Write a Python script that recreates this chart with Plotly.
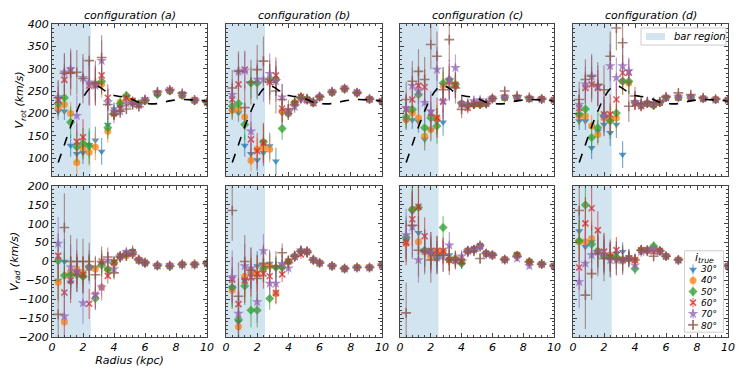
import plotly.graph_objects as go

# rayons des anneaux (kpc)
radius = [0.4, 0.8, 1.2, 1.6, 2.0, 2.4, 2.8, 3.2, 3.6, 4.0, 4.4, 4.8, 5.2, 5.6, 6.0, 6.8, 7.6, 8.4, 9.2, 10.0]

# courbe de rotation du modèle (tirets noirs)
model_vrot = [90, 130, 170, 205, 235, 255, 262, 256, 246, 240, 238, 236, 231, 225, 222, 222, 228, 231, 230, 228]

inclinations = ["30°", "40°", "50°", "60°", "70°", "80°"]
configs = ["configuration (a)", "configuration (b)", "configuration (c)", "configuration (d)"]

# V_rot par configuration : une ligne par inclinaison (30° ... 80°)
vrot_a = [
    [205, 205, 128, 110, 112, 130, 140, 115, 175, 210, 215, 235, 225, 220, 230, 240, 250, 245, 230, 225],
    [212, 220, 200, 90, 122, 113, 125, 265, 160, 200, 225, 232, 228, 220, 228, 245, 250, 240, 230, 225],
    [222, 235, 180, 125, 133, 127, 265, 272, 168, 200, 222, 240, 225, 222, 228, 243, 250, 240, 228, 225],
    [230, 275, 295, 137, 147, 262, 265, 285, 235, 200, 210, 235, 228, 220, 230, 245, 252, 242, 230, 225],
    [237, 292, 300, 195, 280, 270, 262, 318, 225, 205, 205, 222, 222, 218, 232, 248, 252, 243, 230, 225],
    [235, 290, 290, 292, 278, 318, 268, 325, 220, 198, 205, 210, 220, 215, 230, 248, 252, 245, 230, 225],
]
vrot_b = [
    [205, 201, 128, 110, 96, 112, 127, 93, 200, 202, 222, 233, 232, 225, 237, 247, 255, 246, 232, 227],
    [207, 209, 192, 95, 120, 123, 120, 276, 205, 200, 224, 235, 230, 225, 236, 246, 254, 245, 231, 227],
    [216, 222, 175, 268, 268, 136, 276, 276, 166, 200, 224, 236, 232, 224, 237, 247, 255, 246, 232, 227],
    [231, 265, 298, 142, 116, 134, 270, 285, 211, 205, 222, 237, 231, 223, 236, 248, 256, 247, 232, 227],
    [242, 294, 296, 160, 276, 276, 289, 272, 236, 203, 215, 233, 230, 226, 238, 249, 256, 247, 232, 227],
    [257, 294, 213, 270, 298, 317, 270, 250, 231, 210, 220, 235, 232, 225, 237, 248, 255, 246, 232, 227],
]
vrot_c = [
    [183, 185, 182, 142, 163, 182, 180, 258, 258, 222, 218, 220, 220, 222, 233, 235, 235, 233, 232, 230],
    [186, 201, 190, 149, 164, 188, 262, 270, 262, 222, 218, 220, 220, 222, 233, 235, 235, 233, 232, 230],
    [192, 209, 242, 168, 190, 172, 268, 276, 265, 222, 218, 220, 220, 222, 233, 235, 235, 233, 232, 230],
    [209, 231, 262, 259, 201, 190, 227, 272, 264, 220, 212, 222, 221, 222, 233, 236, 235, 233, 232, 230],
    [212, 262, 250, 224, 205, 298, 227, 275, 302, 222, 220, 228, 230, 224, 234, 237, 236, 234, 232, 230],
    [231, 272, 294, 276, 354, 328, 253, 365, 257, 209, 218, 222, 224, 222, 233, 250, 240, 236, 232, 230],
]
vrot_d = [
    [183, 183, 123, 160, 175, 157, 175, 108, 268, 224, 218, 222, 218, 224, 235, 235, 235, 233, 231, 230],
    [194, 194, 172, 153, 190, 186, 190, 272, 268, 224, 218, 222, 218, 224, 235, 235, 235, 233, 231, 230],
    [198, 210, 146, 168, 195, 183, 201, 272, 272, 224, 218, 222, 218, 224, 235, 235, 235, 233, 231, 230],
    [212, 257, 265, 257, 198, 198, 231, 291, 291, 222, 216, 222, 220, 224, 235, 236, 235, 233, 231, 230],
    [220, 265, 283, 262, 194, 306, 280, 306, 295, 226, 220, 224, 222, 226, 236, 237, 236, 234, 231, 230],
    [231, 276, 283, 265, 253, 328, 391, 358, 216, 239, 222, 226, 224, 226, 237, 246, 242, 235, 232, 230],
]

# V_rad par configuration
vrad_a = [
    [-50, 0, -55, -30, -40, -15, -15, -5, -20, 0, 15, 20, 28, 5, -3, -12, -12, -8, -8, -5],
    [-55, -160, -30, -20, -30, -15, -20, -68, -20, -5, 12, 15, 20, 5, -3, -10, -10, -8, -8, -5],
    [2, -37, -35, -35, -40, -15, -98, -10, -22, -3, 12, 20, 25, 3, -5, -12, -13, -8, -8, -5],
    [15, -82, -50, -30, -35, -112, -88, 0, -38, -2, 15, 22, 25, 3, -3, -12, -12, -8, -8, -5],
    [48, -145, -15, -25, -110, -15, -88, -68, 3, -20, 12, 25, 22, 5, -3, -10, -10, -8, -8, -5],
    [-140, 90, 0, 0, 0, 0, -35, 0, 12, -30, 12, 15, 20, 5, -3, -10, -12, -8, -8, -5],
]
vrad_b = [
    [-69, -160, -50, -32, -12, -10, -5, -16, -10, 0, 14, 28, 26, 4, -4, -12, -19, -16, -16, -10],
    [-76, -173, -39, -23, -34, -14, -12, -85, -14, 0, 14, 28, 25, 4, -4, -12, -19, -16, -16, -10],
    [-69, -154, -65, -129, -129, -19, -98, -16, -16, 0, 14, 26, 26, 4, -4, -12, -19, -16, -16, -10],
    [-48, -113, -50, -42, -32, -32, -39, -83, -34, 0, 12, 19, 26, 4, -4, -12, -19, -16, -16, -10],
    [-41, -138, -12, -18, -107, 28, -58, -58, -6, -18, 14, 30, 26, 6, -4, -12, -19, -16, -16, -10],
    [135, -92, 0, -23, -45, -5, -14, -12, 23, -3, 14, 28, 24, 4, -4, -12, -19, -16, -16, -10],
]
vrad_c = [
    [56, 132, 76, 30, 17, 5, 26, 17, 8, -5, 28, 32, 41, 21, 17, 5, 17, -1, -7, -12],
    [48, 138, 52, 26, 12, 26, 26, 5, 8, 2, 28, 32, 41, 21, 17, 5, 17, -1, -7, -12],
    [64, 138, 143, 30, 26, 11, 90, 5, 5, -5, 28, 32, 41, 21, 17, 5, 17, -1, -7, -12],
    [50, 112, 145, 67, 28, 28, 28, 4, 2, 0, 28, 32, 41, 21, 17, 5, 17, -1, -7, -12],
    [70, 92, 4, 28, 23, 11, 14, 43, 4, 14, 28, 32, 40, 21, 17, 5, 8, -12, -7, -12],
    [-136, 96, 30, 26, 4, 17, 17, 4, 4, 4, 26, 28, 8, 21, 17, 5, 14, -1, -7, -12],
]
vrad_d = [
    [81, 39, 52, 26, 12, 12, 21, 26, 12, 4, 30, 30, 36, 28, 14, 4, 8, -1, -7, -12],
    [52, 52, 61, 28, 17, 17, 8, 4, 8, 4, 30, 30, 36, 28, 14, 4, 8, -1, -7, -12],
    [55, 150, 46, 28, 14, 12, 12, 4, 8, -19, 30, 30, 41, 28, 14, 4, 8, -1, -7, -12],
    [-16, 101, 141, 83, 26, 12, 30, 4, 8, 4, 30, 30, 26, 28, 14, 4, 8, -1, -7, -12],
    [-54, -5, 17, 25, 19, 4, 4, 4, 8, -10, 26, 30, 33, 26, 14, 4, 8, -1, -7, -12],
    [135, -89, -32, 21, 8, 8, 8, 4, 8, 4, 30, 28, 14, 28, 14, 4, 8, -1, -7, -12],
]

# barres d'erreur (km/s), une ligne par inclinaison
err_rot = [
    [20, 20, 25, 25, 25, 30, 30, 30, 25, 15, 12, 10, 10, 8, 8, 6, 6, 6, 5, 5],
    [20, 20, 25, 25, 25, 30, 30, 30, 25, 15, 12, 10, 10, 8, 8, 6, 6, 6, 5, 5],
    [25, 25, 35, 35, 35, 40, 35, 30, 25, 15, 12, 10, 10, 8, 8, 6, 6, 6, 5, 5],
    [30, 35, 40, 40, 40, 45, 40, 40, 30, 15, 12, 10, 10, 8, 8, 6, 6, 6, 5, 5],
    [35, 40, 45, 45, 45, 50, 45, 45, 30, 18, 14, 12, 10, 8, 8, 6, 6, 6, 5, 5],
    [40, 45, 50, 50, 55, 55, 50, 50, 35, 20, 15, 12, 12, 10, 8, 8, 6, 6, 5, 5],
]
err_rad = [
    [50, 60, 45, 40, 40, 35, 30, 25, 20, 15, 12, 12, 15, 10, 8, 8, 8, 8, 6, 6],
    [50, 55, 45, 40, 40, 35, 30, 25, 20, 15, 12, 12, 12, 10, 8, 8, 8, 8, 6, 6],
    [55, 60, 50, 45, 45, 35, 30, 30, 20, 15, 12, 12, 12, 10, 8, 8, 8, 8, 6, 6],
    [60, 70, 60, 50, 50, 40, 35, 30, 20, 15, 12, 12, 12, 10, 8, 8, 8, 8, 6, 6],
    [70, 80, 60, 55, 55, 45, 40, 35, 22, 16, 14, 12, 12, 10, 8, 8, 8, 8, 6, 6],
    [80, 90, 70, 60, 60, 50, 45, 40, 25, 18, 15, 14, 14, 10, 10, 8, 8, 8, 6, 6],
]

bar_end = 2.5

vrot_all = [vrot_a, vrot_b, vrot_c, vrot_d]
vrad_all = [vrad_a, vrad_b, vrad_c, vrad_d]

colors = ["31,119,180", "255,127,14", "44,160,44", "214,39,40", "148,103,189", "140,86,75"]
symbols = ["triangle-down", "circle", "diamond", "x-thin-open", "star", "cross-thin-open"]
sizes = [7, 7, 7, 6, 8, 7]

FONT = "DejaVu Sans"
# la page ajoute une marge de 8 px autour de la figure
OFF = 8
W, H = 745 - OFF, 373 - OFF
xpix = [(52, 207), (226, 382), (400, 554), (573, 728)]
ypix = [(24, 176), (186, 337)]


def px(x):
    return (x - OFF) / W


def py(y):
    return 1 - (y - OFF) / H


fig = go.Figure()


def ax_name(kind, row, col):
    n = row * 4 + col + 1
    return kind if n == 1 else f"{kind}{n}"


def marker_style(k):
    rgba = f"rgba({colors[k]},0.75)"
    thin = symbols[k].endswith("open")
    return dict(symbol=symbols[k], size=sizes[k], color=rgba,
                line=dict(width=1.6 if thin else 0, color=rgba))


for col in range(4):
    for row in range(2):
        xa = ax_name("x", row, col)
        ya = ax_name("y", row, col)
        data = vrot_all[col] if row == 0 else vrad_all[col]
        errs = err_rot if row == 0 else err_rad
        for k in range(6):
            fig.add_trace(go.Scatter(
                x=radius, y=data[k], xaxis=xa, yaxis=ya,
                mode="markers", name=inclinations[k], showlegend=False,
                marker=marker_style(k),
                error_y=dict(type="data", array=errs[k], width=0, thickness=1.2,
                             color=f"rgba({colors[k]},0.6)"),
            ))
        if row == 0:
            fig.add_trace(go.Scatter(
                x=radius, y=model_vrot, xaxis=xa, yaxis=ya, mode="lines",
                line=dict(color="black", dash="dash", width=1.6, shape="spline"),
                showlegend=False, hoverinfo="skip",
            ))
        # zone de la barre
        fig.add_shape(type="rect", xref=xa, yref=f"{ya} domain", x0=0, x1=bar_end, y0=0, y1=1,
                      fillcolor="rgba(31,119,180,0.2)", line_width=0, layer="below")

# ---- légende i_true, dessinée dans un petit repère à part (x9 / y9) ----
lg_x0, lg_x1, lg_y0, lg_y1 = 684, 724, 250, 333
fig.add_trace(go.Scatter(
    x=[0, 1, 1, 0, 0], y=[0, 0, 1, 1, 0], xaxis="x9", yaxis="y9", mode="lines",
    fill="toself", fillcolor="rgba(255,255,255,0.8)", line=dict(color="#cccccc", width=1),
    showlegend=False, hoverinfo="skip",
))
for k in range(6):
    ypos = 1 - (19 + 11.3 * k) / (lg_y1 - lg_y0)
    fig.add_trace(go.Scatter(
        x=[0.22], y=[ypos], xaxis="x9", yaxis="y9", mode="markers", showlegend=False,
        marker=marker_style(k), hoverinfo="skip",
        error_y=dict(type="constant", value=0.06, width=0, thickness=1.2, color=f"rgba({colors[k]},0.6)"),
    ))
    fig.add_annotation(text=inclinations[k], xref="paper", yref="paper",
                       x=px(lg_x0 + 15), y=py(lg_y0 + 19 + 11.3 * k),
                       xanchor="left", yanchor="middle", showarrow=False,
                       font=dict(family=FONT, size=9, style="italic", color="black"))
fig.add_annotation(text="<i>i</i><sub>true</sub>", xref="paper", yref="paper",
                   x=px(lg_x0 + 9), y=py(lg_y0 + 8), xanchor="left", yanchor="middle",
                   showarrow=False, font=dict(family=FONT, size=11, style="italic", color="black"))

# ---- légende "bar region" ----
fig.add_shape(type="rect", xref="paper", yref="paper", x0=px(641), x1=px(726), y0=py(45), y1=py(28),
              fillcolor="rgba(255,255,255,0.8)", line=dict(color="#cccccc", width=1), layer="above")
fig.add_shape(type="rect", xref="paper", yref="paper", x0=px(646), x1=px(665), y0=py(40), y1=py(33),
              fillcolor="rgba(31,119,180,0.2)", line_width=0, layer="above")
fig.add_annotation(text="bar region", xref="paper", yref="paper", x=px(672), y=py(36.5),
                   xanchor="left", yanchor="middle", showarrow=False,
                   font=dict(family=FONT, size=10, style="italic", color="black"))

axis_common = dict(showline=True, linecolor="#444", linewidth=1, mirror="allticks", ticks="inside",
                   ticklen=4, tickcolor="#444", showgrid=False, zeroline=False, automargin=False,
                   tickfont=dict(family=FONT, size=11, style="italic", color="black"))

layout = {}
for col in range(4):
    for row in range(2):
        n = row * 4 + col + 1
        xk = "xaxis" if n == 1 else f"xaxis{n}"
        yk = "yaxis" if n == 1 else f"yaxis{n}"
        x0, x1 = xpix[col]
        y0, y1 = ypix[row]
        ya = ax_name("y", row, col)
        xa = ax_name("x", row, col)
        layout[xk] = dict(axis_common, domain=[px(x0), px(x1)], anchor=ya, range=[0, 10], dtick=2,
                          showticklabels=(row == 1),
                          minor=dict(ticks="inside", ticklen=2, dtick=0.4, tickcolor="#444"))
        yr = [60, 400] if row == 0 else [-200, 200]
        layout[yk] = dict(axis_common, domain=[py(y1), py(y0)], anchor=xa, range=yr, dtick=50,
                          showticklabels=(col == 0),
                          minor=dict(ticks="inside", ticklen=2, dtick=10, tickcolor="#444"))

layout["yaxis"]["tickvals"] = [100, 150, 200, 250, 300, 350, 400]
layout["yaxis"]["title"] = dict(text="V<sub>rot</sub> (km/s)", standoff=1,
                                font=dict(family=FONT, size=11, style="italic"))
layout["yaxis5"]["title"] = dict(text="V<sub>rad</sub> (km/s)", standoff=1,
                                 font=dict(family=FONT, size=11, style="italic"))
layout["xaxis5"]["title"] = dict(text="Radius (kpc)", standoff=3,
                                 font=dict(family=FONT, size=11, style="italic"))
# repère de la légende
layout["xaxis9"] = dict(domain=[px(lg_x0), px(lg_x1)], range=[-0.01, 1.01], visible=False, anchor="y9")
layout["yaxis9"] = dict(domain=[py(lg_y1), py(lg_y0)], range=[-0.01, 1.01], visible=False, anchor="x9")

fig.update_layout(**layout)

for col in range(4):
    x0, x1 = xpix[col]
    fig.add_annotation(text=configs[col], x=px((x0 + x1) / 2), y=py(15), xref="paper", yref="paper",
                       xanchor="center", yanchor="middle", showarrow=False, borderpad=0,
                       font=dict(family=FONT, size=11, style="italic", color="black"))

fig.update_layout(
    width=W, height=H,
    margin=dict(l=0, r=0, t=0, b=0),
    plot_bgcolor="white", paper_bgcolor="white",
    font=dict(family=FONT, size=10, style="italic", color="black"),
    showlegend=False,
)

fig.write_html("out.html")
